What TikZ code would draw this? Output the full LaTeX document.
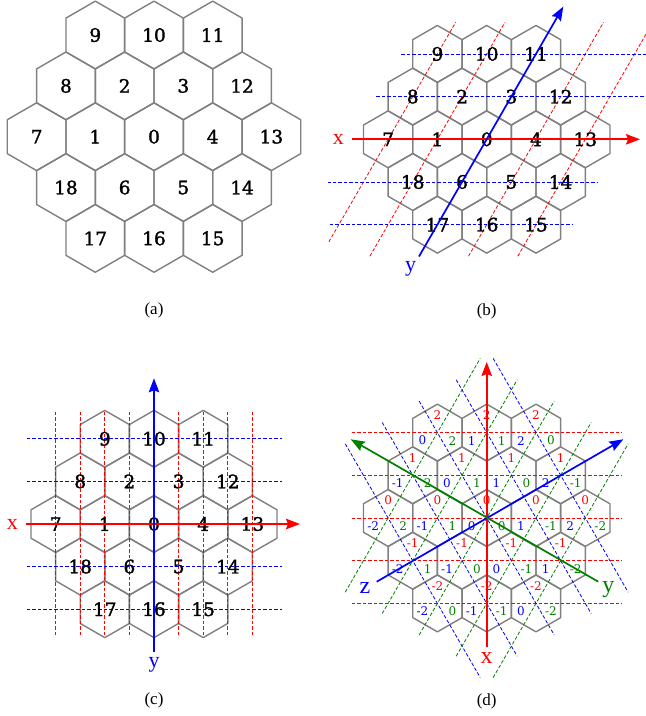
\documentclass[tikz,border=0pt]{standalone}
\usepackage{fontspec}
\setmainfont{Liberation Serif}
\newfontfamily\numfont{DejaVu Serif}
\newfontfamily\numboldfont[FakeBold=1.6]{DejaVu Serif}
\usetikzlibrary{arrows.meta}
\definecolor{hexgray}{RGB}{128,128,128}
\definecolor{dgreen}{RGB}{0,128,0}
\definecolor{axred}{RGB}{255,0,0}
\tikzset{
  hexline/.style={draw=hexgray, line width=1.4pt, line join=round},
  guide/.style={dash pattern=on 3.5pt off 2pt, line width=0.8pt},
  axisline/.style={line width=1.7pt, -{Stealth[length=14pt,width=10.5pt,inset=2pt]}},
  bignum/.style={font=\numboldfont\fontsize{18.5}{18.5}\selectfont, inner sep=0pt},
  smallnum/.style={font=\numfont\fontsize{12}{12}\selectfont, inner sep=0pt},
  axlabel/.style={font=\fontsize{22}{22}\selectfont, inner sep=0pt},
  biglabel/.style={font=\fontsize{24}{24}\selectfont, inner sep=0pt},
  caplabel/.style={font=\fontsize{17}{17}\selectfont, inner sep=0pt},
}
% hexagon grid: #1 cx, #2 cy, #3 width (flat to flat)
\newcommand\myhexgrid[3]{%
  \pgfmathsetmacro\hxW{#3/2}%
  \pgfmathsetmacro\hxR{#3/sqrt(3)}%
  \pgfmathsetmacro\hxRh{\hxR/2}%
  \foreach \c/\r in {-2/-2,0/-2,2/-2,-3/-1,-1/-1,1/-1,3/-1,-4/0,-2/0,0/0,2/0,4/0,-3/1,-1/1,1/1,3/1,-2/2,0/2,2/2}{%
    \pgfmathsetmacro\hxX{#1+\c*\hxW}%
    \pgfmathsetmacro\hxY{#2+\r*1.5*\hxR}%
    \draw[hexline] ({\hxX},{\hxY-\hxR}) -- ({\hxX+\hxW},{\hxY-\hxRh}) -- ({\hxX+\hxW},{\hxY+\hxRh})
      -- ({\hxX},{\hxY+\hxR}) -- ({\hxX-\hxW},{\hxY+\hxRh}) -- ({\hxX-\hxW},{\hxY-\hxRh}) -- cycle;
  }%
}
% numbers: #1 prefix, #2 cx, #3 cy, #4 width
\newcommand\myhexnums[4]{%
  \pgfmathsetmacro\hxW{#4/2}%
  \pgfmathsetmacro\hxR{#4/sqrt(3)}%
  \foreach \c/\r/\lab in {-2/-2/9,0/-2/10,2/-2/11,-3/-1/8,-1/-1/2,1/-1/3,3/-1/12,-4/0/7,-2/0/1,0/0/0,2/0/4,4/0/13,-3/1/18,-1/1/6,1/1/5,3/1/14,-2/2/17,0/2/16,2/2/15}{%
    \pgfmathsetmacro\hxX{#2+\c*\hxW}%
    \pgfmathsetmacro\hxY{#3+\r*1.5*\hxR}%
    \node[bignum] (#1\lab) at (\hxX,\hxY) {\lab};
  }%
}
\begin{document}
\begin{tikzpicture}[x=1pt,y=-1pt]
\fill[white] (0,0) rectangle (646,716);
\useasboundingbox (0,0) rectangle (646,716);

% ---------------- (a)
\myhexgrid{154}{136.7}{58.7}
\myhexnums{a}{154}{136.7}{58.7}
\node[caplabel] (capa) at (154,310) {(a)};

% ---------------- (b)
\myhexgrid{486.7}{139.3}{49.3}
\begin{scope}
  \clip (328,0) rectangle (646,300);
  \foreach \k in {-2,-1,1,2}{
    \pgfmathsetmacro\gx{486.7+49.3*\k}
    \draw[guide, red] ({\gx-67.5},{139.3+116.9}) -- ({\gx+67.5},{139.3-116.9});
  }
  \foreach \r in {-2,-1,1,2}{
    \pgfmathsetmacro\gy{139.3+42.7*\r}
    \pgfmathsetmacro\gx{486.7-24.65*\r}
    \draw[guide, blue] ({\gx-135},\gy) -- ({\gx+135},\gy);
  }
\end{scope}
\myhexnums{b}{486.7}{139.3}{49.3}
\coordinate (bxs) at (351.7,139.3);
\coordinate (bxe) at (640,139.3);
\coordinate (bys) at (419,256.5);
\coordinate (bye) at (563.3,6.6);
\draw[axisline, draw=axred, fill=axred] (bxs) -- (bxe);
\draw[axisline, blue] (bys) -- (bye);
\node[axlabel, red] (bxl) at (338.3,139) {x};
\node[axlabel, blue] (byl) at (410.7,269) {y};
\node[caplabel] (capb) at (486.7,311.5) {(b)};

% ---------------- (c)
\myhexgrid{154}{524}{49.2}
\foreach \k in {-4,-3,-2,-1,1,2,3,4}{
  \draw[guide, red] ({154+24.6*\k},411.7) -- ({154+24.6*\k},636.7);
}
\foreach \r in {-2,-1,1,2}{
  \draw[guide, blue] (26.7,{524+42.6*\r}) -- (281.7,{524+42.6*\r});
}
\myhexnums{c}{154}{524}{49.2}
\coordinate (cxs) at (26,524);
\coordinate (cxe) at (300,524);
\coordinate (cys) at (154,651.7);
\coordinate (cye) at (154,378.3);
\draw[axisline, red] (cxs) -- (cxe);
\draw[axisline, blue] (cys) -- (cye);
\node[axlabel, red] (cxl) at (12.3,524) {x};
\node[axlabel, blue] (cyl) at (154,665) {y};
\node[caplabel] (capc) at (154,700.5) {(c)};

% ---------------- (d)
\myhexgrid{486.7}{518}{49.3}
\foreach \r in {-2,-1,0,1,2}{
  \draw[guide, red] (351.7,{518+42.7*\r}) -- (621.7,{518+42.7*\r});
}
\foreach \k in {-2,-1,0,1,2}{
  \pgfmathsetmacro\gx{486.7+36.98*\k}
  \pgfmathsetmacro\gy{518-21.35*\k}
  \draw[guide, blue] ({\gx-67.5},{\gy-116.9}) -- ({\gx+67.5},{\gy+116.9});
  \pgfmathsetmacro\hx{486.7-36.98*\k}
  \draw[guide, dgreen] ({\hx-67.5},{\gy+116.9}) -- ({\hx+67.5},{\gy-116.9});
}
\pgfmathsetmacro\dW{49.3/2}
\pgfmathsetmacro\dR{49.3/sqrt(3)}
\foreach \c/\r/\xv/\zv/\yv [count=\i] in {
  -2/-2/2/0/2, 0/-2/2/1/1, 2/-2/2/2/0,
  -3/-1/1/-1/2, -1/-1/1/0/1, 1/-1/1/1/0, 3/-1/1/2/-1,
  -4/0/0/-2/2, -2/0/0/-1/1, 0/0/0/0/0, 2/0/0/1/-1, 4/0/0/2/-2,
  -3/1/-1/-2/1, -1/1/-1/-1/0, 1/1/-1/0/-1, 3/1/-1/1/-2,
  -2/2/-2/-2/0, 0/2/-2/-1/-1, 2/2/-2/0/-2}{
  \pgfmathsetmacro\hxX{486.7+\c*\dW}
  \pgfmathsetmacro\hxY{518+\r*1.5*\dR}
  \node[smallnum, red] (dx\i) at (\hxX,\hxY-17.5) {\xv};
  \node[smallnum, blue] (dz\i) at (\hxX-15,\hxY+8) {\zv};
  \node[smallnum, dgreen] (dy\i) at (\hxX+15,\hxY+8) {\yv};
}
\coordinate (dxs) at (486.7,646.7);
\coordinate (dxe) at (486.7,362);
\coordinate (dzs) at (376.7,581.7);
\coordinate (dze) at (623.3,439.3);
\coordinate (dys) at (598.3,581.7);
\coordinate (dye) at (350.7,439.3);
\draw[axisline, red] (dxs) -- (dxe);
\draw[axisline, blue] (dzs) -- (dze);
\draw[axisline, dgreen] (dys) -- (dye);
\node[biglabel, red] (dxl) at (486.7,658) {x};
\node[biglabel, blue] (dzl) at (365,588) {z};
\node[biglabel, dgreen] (dyl) at (608.3,590) {y};
\node[caplabel] (capd) at (486.7,701.5) {(d)};
\end{tikzpicture}
\end{document}
